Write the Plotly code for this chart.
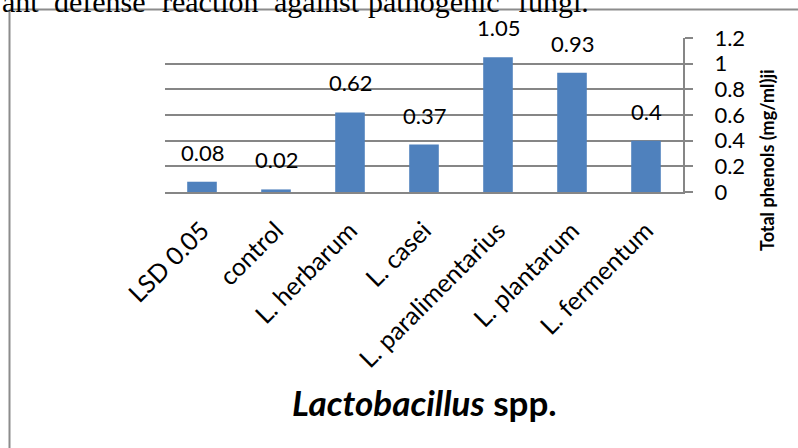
import plotly.graph_objects as go

categories = ["LSD 0.05", "control", "L. herbarum", "L. casei",
              "L. paralimentarius", "L. plantarum", "L. fermentum"]
phenols = [0.08, 0.02, 0.62, 0.37, 1.05, 0.93, 0.40]
value_labels = ["0.08", "0.02", "0.62", "0.37", "1.05", "0.93", "0.4"]
y_tick_values = [0, 0.2, 0.4, 0.6, 0.8, 1.0, 1.2]
y_tick_labels = ["0", "0.2", "0.4", "0.6", "0.8", "1", "1.2"]

top_words = ["ant", "defense", "reaction", "against", "pathogenic", "fungi."]
top_word_px = [0, 52, 160, 272, 366, 516]

W, H = 798, 448
L, R, T, B = 165, 115, 38, 256
PW, PH = W - L - R, H - T - B

def px_x(x):
    return (x - L) / PW

def px_y(y):
    return (H - B - y) / PH

FONT = "Lato, 'Open Sans', sans-serif"
BAR = "#4F81BD"
GRID = "#868686"

fig = go.Figure()
fig.add_trace(go.Bar(x=categories, y=phenols, marker=dict(color=BAR, line=dict(width=0)),
                     hoverinfo="x+y"))

annotations = []
for c, v, t in zip(categories, phenols, value_labels):
    annotations.append(dict(x=c, y=v, xref="x", yref="y", text=t, showarrow=False,
                            yanchor="bottom", yshift=14,
                            font=dict(family=FONT, size=22, color="black")))

# axis titles
annotations.append(dict(x=px_x(767), y=px_y(160), xref="paper", yref="paper",
                        text="<b>Total phenols (mg/ml)ji</b>", textangle=-90, showarrow=False,
                        xanchor="center", yanchor="middle",
                        font=dict(family=FONT, size=18, color="black")))
annotations.append(dict(x=0.5, y=px_y(402), xref="paper", yref="paper",
                        text="<b><i>Lactobacillus</i> spp.</b>", showarrow=False,
                        xanchor="center", yanchor="middle",
                        font=dict(family=FONT, size=35, color="black")))

# cropped paragraph text at the top
for w, xp in zip(top_words, top_word_px):
    annotations.append(dict(x=px_x(xp), y=px_y(1), xref="paper", yref="paper",
                            text=w, showarrow=False, xanchor="left", yanchor="middle",
                            font=dict(family="Liberation Serif, 'Times New Roman', serif",
                                      size=30, color="black")))

shapes = [
    dict(type="line", xref="paper", yref="paper", x0=px_x(9.5), x1=px_x(9.5),
         y0=px_y(9.5), y1=px_y(460), line=dict(color="#8C8C8C", width=2)),
    dict(type="line", xref="paper", yref="paper", x0=px_x(9.5), x1=px_x(810),
         y0=px_y(9.5), y1=px_y(9.5), line=dict(color="#8C8C8C", width=2)),
]

fig.update_layout(
    template="none",
    width=W, height=H, autosize=False,
    margin=dict(l=L, r=R, t=T, b=B, pad=0, autoexpand=False),
    paper_bgcolor="white", plot_bgcolor="white",
    showlegend=False, bargap=0.6,
    annotations=annotations, shapes=shapes,
    font=dict(family=FONT, size=22, color="black"),
)
fig.update_xaxes(
    type="category", tickangle=-45, showgrid=False, automargin=False,
    showline=True, linecolor=GRID, linewidth=2,
    ticks="", tickfont=dict(family=FONT, size=25, color="black"),
    ticklabelstandoff=12,
)
fig.update_yaxes(
    side="right", range=[0, 1.2], tickvals=y_tick_values, ticktext=y_tick_labels,
    automargin=False,
    showgrid=True, gridcolor=GRID, gridwidth=1.5,
    showline=True, linecolor=GRID, linewidth=2,
    ticks="outside", ticklen=8, tickcolor=GRID, tickwidth=1.5,
    tickfont=dict(family=FONT, size=22, color="black"),
    ticklabelstandoff=17, zeroline=False,
)

fig.write_html("out.html", config={"displayModeBar": False},
               post_script="document.body.style.margin='0px';document.body.style.overflow='hidden';")
